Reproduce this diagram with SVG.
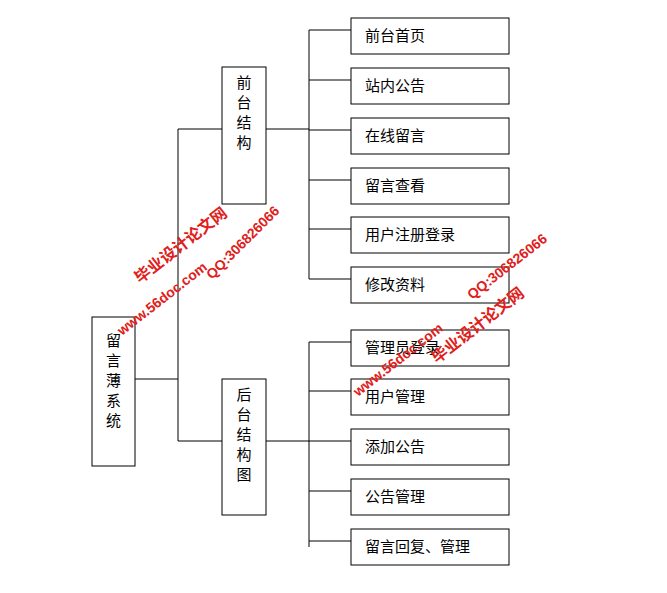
<svg xmlns="http://www.w3.org/2000/svg" width="667" height="593" viewBox="0 0 667 593">
<style>
.b{fill:#fff;stroke:#000;stroke-width:1}
.t{font-family:"Noto Sans CJK SC","Liberation Sans",sans-serif;font-size:15px;fill:#000}
.l{stroke:#000;stroke-width:1;fill:none}
.w{font-family:"Liberation Sans","Noto Sans CJK SC",sans-serif;font-weight:bold;fill:#e0201a}
</style>
<rect width="667" height="593" fill="#fff"/>
<g id="connectors">
<path class="l" d="M135 379H178M178 129V441M178 129H222M178 441H222M266 129H309M266 441H309M309 30V279M309 342V547"/>
<path class="l" d="M309 30H351M309 80H351M309 130H351M309 180H351M309 229H351M309 279H351M309 342H351M309 391H351M309 441H351M309 491H351M309 541H351"/>
</g>
<g id="root"><rect class="b" x="92" y="317" width="43" height="149"/>
<text class="t" x="113.5" y="346" text-anchor="middle"><tspan x="113.5">留</tspan><tspan x="113.5" dy="20">言</tspan><tspan x="113.5" dy="20">薄</tspan><tspan x="113.5" dy="20">系</tspan><tspan x="113.5" dy="20">统</tspan></text></g>
<g id="front"><rect class="b" x="222" y="67" width="44" height="137"/>
<text class="t" x="244" y="88" text-anchor="middle"><tspan x="244">前</tspan><tspan x="244" dy="20">台</tspan><tspan x="244" dy="20">结</tspan><tspan x="244" dy="20">构</tspan></text></g>
<g id="back"><rect class="b" x="222" y="379" width="44" height="136"/>
<text class="t" x="244" y="400" text-anchor="middle"><tspan x="244">后</tspan><tspan x="244" dy="20">台</tspan><tspan x="244" dy="20">结</tspan><tspan x="244" dy="20">构</tspan><tspan x="244" dy="20">图</tspan></text></g>
<g id="n1"><rect class="b" x="351" y="18" width="158" height="36"/><text class="t" x="365" y="41">前台首页</text></g>
<g id="n2"><rect class="b" x="351" y="68" width="158" height="36"/><text class="t" x="365" y="91">站内公告</text></g>
<g id="n3"><rect class="b" x="351" y="118" width="158" height="36"/><text class="t" x="365" y="141">在线留言</text></g>
<g id="n4"><rect class="b" x="351" y="168" width="158" height="36"/><text class="t" x="365" y="191">留言查看</text></g>
<g id="n5"><rect class="b" x="351" y="217" width="158" height="36"/><text class="t" x="365" y="240">用户注册登录</text></g>
<g id="n6"><rect class="b" x="351" y="267" width="158" height="36"/><text class="t" x="365" y="290">修改资料</text></g>
<g id="n7"><rect class="b" x="351" y="330" width="158" height="36"/><text class="t" x="365" y="353">管理员登录</text></g>
<g id="n8"><rect class="b" x="351" y="379" width="158" height="36"/><text class="t" x="365" y="402">用户管理</text></g>
<g id="n9"><rect class="b" x="351" y="429" width="158" height="36"/><text class="t" x="365" y="452">添加公告</text></g>
<g id="n10"><rect class="b" x="351" y="479" width="158" height="36"/><text class="t" x="365" y="502">公告管理</text></g>
<g id="n11"><rect class="b" x="351" y="529" width="158" height="36"/><text class="t" x="365" y="552">留言回复、管理</text></g>
<g id="watermark">
<text class="w" font-size="16" transform="translate(140,284) rotate(-38)">毕业设计论文网</text>
<text class="w" font-size="14" transform="translate(122,336) rotate(-38)">www.56doc.com</text>
<text class="w" font-size="14" transform="translate(212,280) rotate(-45)">QQ:306826066</text>
<text class="w" font-size="14" transform="translate(472,300) rotate(-38)">QQ:306826066</text>
<text class="w" font-size="14" transform="translate(358,397) rotate(-38)">www.56doc.com</text>
<text class="w" font-size="16" transform="translate(437,364) rotate(-38)">毕业设计论文网</text>
</g>
</svg>
